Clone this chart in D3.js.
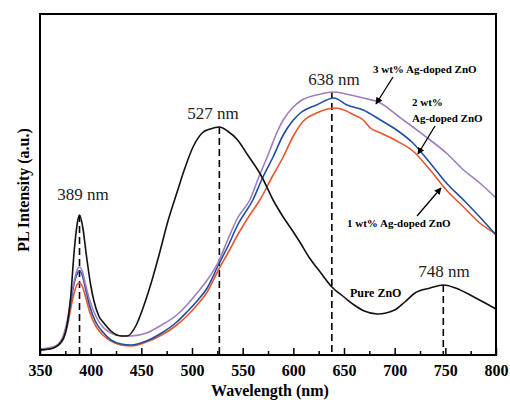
<!DOCTYPE html>
<html>
<head>
<meta charset="utf-8">
<script src="https://cdn.jsdelivr.net/npm/d3@7"></script>
<style>
  body { margin: 0; background: #fff; }
  text { font-family: "Liberation Serif", "Times New Roman", serif; }
</style>
</head>
<body>
<script>
// wavelength (nm) and PL intensity (a.u.)
var pureWl = [350,360,370,375,380,384,387,389,392,396,400,403,408,413,420,430,436,445,452,460,468,476,485,493,501,510,518,527,535,545,555,569,580,590,600,607,616,625,638,650,660,670,683,700,710,720,735,748,760,780,800];
var pureI  = [5,6,12,22,55,107,133,140,129,98,70,55,39,32,24,19,19,30,48,73,102,133,162,187,208,222,226,228,224,215,200,178,155,138,123,112,97,85,68,58,50,44,41,45,53,62,67,70,67,57,46];

var ag3Wl = [350,365,372,377,381,384,387,389,392,395,399,405,412,420,430,440,455,470,485,495,505,515,526,536,545,557,566,575,584,590,600,607,623,640,652,669,686,702,718,735,751,768,784,800];
var ag3I  = [6,9,17,35,60,75,86,88,83,70,55,39,28,22,19,19,22,30,40,50,62,75,93,117,137,155,178,200,223,235,248,254,260,263,261,257,252,240,228,215,202,185,172,157];

var ag2Wl = [350,365,372,377,381,384,387,389,392,395,399,405,412,420,430,440,455,470,485,495,505,515,526,536,545,560,570,580,590,600,607,623,640,653,669,686,702,718,735,751,768,784,800];
var ag2I  = [5,8,15,32,57,73,82,84,79,66,49,33,23,15,11,10,14,22,33,43,54,67,90,110,130,155,178,198,220,235,242,250,257,250,245,235,225,212,192,172,155,138,120];

var ag1Wl = [350,365,372,377,381,384,387,389,392,395,399,405,412,420,430,440,455,470,485,495,505,515,526,536,545,557,567,579,590,600,610,623,642,650,660,669,676,686,702,718,735,751,768,784,800];
var ag1I  = [5,8,14,29,50,63,71,72,68,58,43,29,20,14,10,9,13,20,30,39,50,63,85,103,120,140,155,178,198,219,234,242,247,245,240,235,227,222,214,204,185,165,148,132,121];

var peakWl = [389, 527, 638, 748];
var peakTop = [140, 228, 263, 70];   // where each dashed marker starts
var xTicks = [350,400,450,500,550,600,650,700,750,800];

var W = 510, H = 400;
var mLeft = 40, mRight = 496, mTop = 14, mBottom = 355;

var svg = d3.select("body").append("svg")
    .attr("width", W)
    .attr("height", H);

var x = d3.scaleLinear().domain([350, 800]).range([mLeft, mRight]);
var y = d3.scaleLinear().domain([0, 341]).range([mBottom, mTop]);

// arrow head
svg.append("defs").append("marker")
    .attr("id", "arr")
    .attr("viewBox", "0 0 10 10")
    .attr("refX", 9).attr("refY", 5)
    .attr("markerWidth", 7).attr("markerHeight", 7)
    .attr("markerUnits", "userSpaceOnUse")
    .attr("orient", "auto")
  .append("path")
    .attr("d", "M0,0 L10,5 L0,10 z")
    .attr("fill", "#000");

// dashed peak markers
svg.selectAll(".peak")
    .data(peakWl)
  .enter().append("line")
    .attr("class", "peak")
    .attr("x1", function(d){ return x(d); })
    .attr("x2", function(d){ return x(d); })
    .attr("y1", function(d, i){ return y(peakTop[i]); })
    .attr("y2", mBottom)
    .attr("stroke", "#000")
    .attr("stroke-width", 1.6)
    .attr("stroke-dasharray", "7,4");

var line = d3.line()
    .x(function(d){ return x(d[0]); })
    .y(function(d){ return y(d[1]); })
    .curve(d3.curveMonotoneX);

var series = [
  { wl: ag1Wl, v: ag1I, color: "#e8562e" },
  { wl: ag2Wl, v: ag2I, color: "#1f4f9e" },
  { wl: ag3Wl, v: ag3I, color: "#a07dbd" },
  { wl: pureWl, v: pureI, color: "#111" }
];

svg.selectAll(".curve")
    .data(series)
  .enter().append("path")
    .attr("class", "curve")
    .attr("fill", "none")
    .attr("stroke", function(d){ return d.color; })
    .attr("stroke-width", 1.6)
    .attr("d", function(d){ return line(d.wl.map(function(w, i){ return [w, d.v[i]]; })); });

// frame
svg.append("rect")
    .attr("x", mLeft).attr("y", mTop)
    .attr("width", mRight - mLeft).attr("height", mBottom - mTop)
    .attr("fill", "none")
    .attr("stroke", "#000")
    .attr("stroke-width", 2);

// bottom axis, ticks pointing inward
var minor = d3.range(375, 800, 50);
svg.append("g")
    .attr("transform", "translate(0," + mBottom + ")")
    .call(d3.axisBottom(x).tickValues(minor).tickSize(-4).tickFormat(""))
    .call(function(g){ g.select(".domain").remove(); })
    .selectAll("line").attr("stroke-width", 1.5);

var xAxis = svg.append("g")
    .attr("transform", "translate(0," + mBottom + ")")
    .call(d3.axisBottom(x).tickValues(xTicks).tickSize(-7).tickPadding(10).tickFormat(d3.format("d")));
xAxis.select(".domain").remove();
xAxis.selectAll("line").attr("stroke-width", 1.5);
xAxis.selectAll("text")
    .attr("font-family", "Liberation Serif, serif")
    .attr("font-weight", "bold")
    .attr("font-size", 16)
    .attr("fill", "#000");

// axis titles
svg.append("text")
    .attr("x", (mLeft + mRight) / 2 + 2)
    .attr("y", 396)
    .attr("text-anchor", "middle")
    .attr("font-weight", "bold")
    .attr("font-size", 16)
    .text("Wavelength (nm)");

svg.append("text")
    .attr("transform", "translate(29,190) rotate(-90)")
    .attr("text-anchor", "middle")
    .attr("font-weight", "bold")
    .attr("font-size", 16)
    .text("PL Intensity (a.u.)");

// peak labels
var peakLabelX = [83, 213, 334, 444];
var peakLabelY = [200, 119, 85, 277];
svg.selectAll(".plab")
    .data(peakWl)
  .enter().append("text")
    .attr("class", "plab")
    .attr("x", function(d, i){ return peakLabelX[i]; })
    .attr("y", function(d, i){ return peakLabelY[i]; })
    .attr("text-anchor", "middle")
    .attr("font-size", 17)
    .attr("fill", "#222")
    .text(function(d){ return d + " nm"; });

// series labels
svg.append("text")
    .attr("x", 373).attr("y", 73)
    .attr("font-weight", "bold").attr("font-size", 11)
    .text("3 wt% Ag-doped ZnO");
svg.append("text")
    .attr("x", 412).attr("y", 106)
    .attr("font-weight", "bold").attr("font-size", 11)
    .text("2 wt%");
svg.append("text")
    .attr("x", 412).attr("y", 122)
    .attr("font-weight", "bold").attr("font-size", 11)
    .text("Ag-doped ZnO");
svg.append("text")
    .attr("x", 347).attr("y", 227)
    .attr("font-weight", "bold").attr("font-size", 11)
    .text("1 wt% Ag-doped ZnO");
svg.append("text")
    .attr("x", 350).attr("y", 297)
    .attr("font-family", "Liberation Sans, Arial, sans-serif")
    .attr("font-weight", "bold").attr("font-size", 12)
    .text("Pure ZnO");

// arrows
var arrows = [[393, 77, 376, 104], [435, 126, 418, 154], [417, 216, 441, 188]];
svg.selectAll(".arrow")
    .data(arrows)
  .enter().append("line")
    .attr("class", "arrow")
    .attr("x1", function(d){ return d[0]; })
    .attr("y1", function(d){ return d[1]; })
    .attr("x2", function(d){ return d[2]; })
    .attr("y2", function(d){ return d[3]; })
    .attr("stroke", "#000")
    .attr("stroke-width", 1.3)
    .attr("marker-end", "url(#arr)");
</script>
</body>
</html>
